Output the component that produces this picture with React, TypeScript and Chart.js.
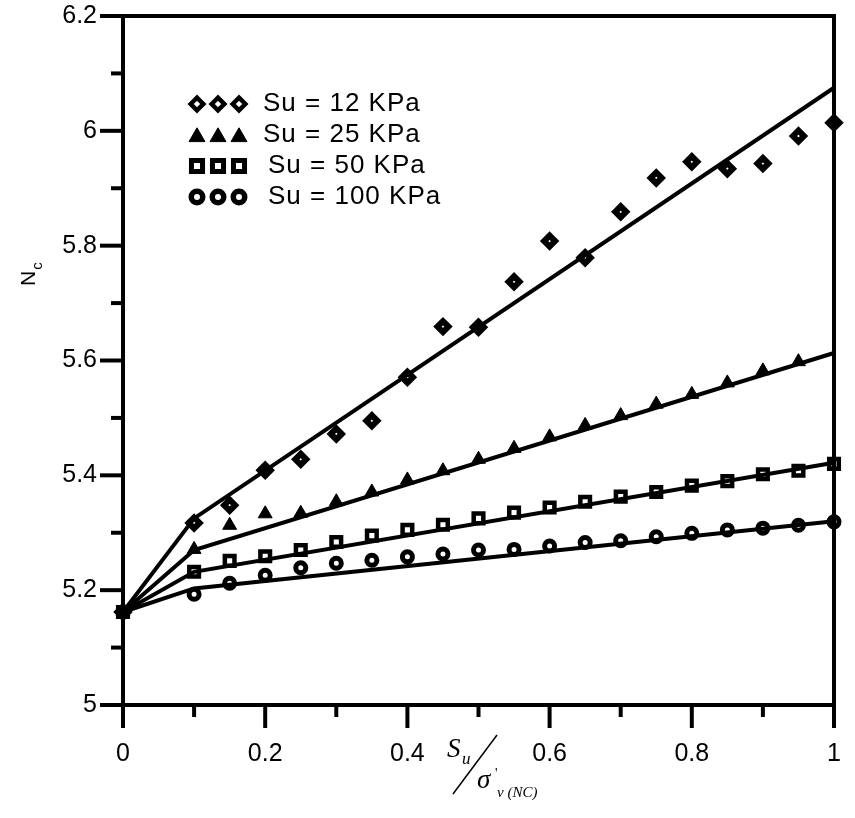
import React, { useEffect, useRef } from 'react';
import { Chart, registerables } from 'chart.js';
import { drawPoint } from 'chart.js/helpers';

Chart.register(...registerables);

// ---- data ----
const xAll = [0, 0.1, 0.15, 0.2, 0.25, 0.3, 0.35, 0.4, 0.45, 0.5, 0.55, 0.6, 0.65, 0.7, 0.75, 0.8, 0.85, 0.9, 0.95, 1.0];
const su12 = [5.162, 5.317, 5.348, 5.409, 5.428, 5.472, 5.495, 5.571, 5.659, 5.658, 5.737, 5.808, 5.779, 5.859, 5.918, 5.946, 5.934, 5.943, 5.991, 6.014];
const su25 = [5.162, 5.271, 5.313, 5.333, 5.334, 5.354, 5.371, 5.392, 5.408, 5.428, 5.447, 5.467, 5.487, 5.504, 5.524, 5.541, 5.561, 5.582, 5.598];
const su50 = [5.162, 5.232, 5.251, 5.259, 5.27, 5.284, 5.295, 5.305, 5.314, 5.325, 5.335, 5.344, 5.354, 5.363, 5.371, 5.382, 5.39, 5.402, 5.408, 5.42];
const su100 = [5.162, 5.193, 5.212, 5.226, 5.239, 5.247, 5.252, 5.258, 5.263, 5.27, 5.271, 5.277, 5.283, 5.286, 5.293, 5.299, 5.305, 5.308, 5.313, 5.319];

const fitX = [0, 0.1, 1];
const fit12 = [5.162, 5.325, 6.075];
const fit25 = [5.162, 5.27, 5.613];
const fit50 = [5.162, 5.232, 5.422];
const fit100 = [5.162, 5.203, 5.32];

const legendLabels = ['Su = 12 KPa', 'Su = 25 KPa', 'Su = 50 KPa', 'Su = 100 KPa'];

const xTickValues = [0, 0.2, 0.4, 0.6, 0.8, 1];
const xTickLabels = ['0', '0.2', '0.4', '0.6', '0.8', '1'];
const xMinorTicks = [0.1, 0.3, 0.5, 0.7, 0.9];
const yTickValues = [5, 5.2, 5.4, 5.6, 5.8, 6, 6.2];
const yTickLabels = ['5', '5.2', '5.4', '5.6', '5.8', '6', '6.2'];
const yMinorTicks = [5.1, 5.3, 5.5, 5.7, 5.9, 6.1];

const SANS = '"Liberation Sans", Arial, sans-serif';
const SERIF = '"Liberation Serif", "Times New Roman", serif';

const markerStyles = [
  { pointStyle: 'rectRot', radius: 5.5, borderWidth: 6, bg: '#fff' },
  { pointStyle: 'triangle', radius: 8, borderWidth: 1, bg: '#000' },
  { pointStyle: 'rect', radius: 6.8, borderWidth: 4.5, bg: '#fff' },
  { pointStyle: 'circle', radius: 5, borderWidth: 5, bg: '#fff' },
];

const pts = (xs: number[], ys: number[]) => ys.map((y, i) => ({ x: xs[i], y }));

const framePlugin = {
  id: 'frameTicks',
  afterDraw(chart: any) {
    const { ctx, chartArea: a, scales } = chart;
    const xs = scales.x;
    const ys = scales.y;
    ctx.save();
    ctx.strokeStyle = '#000';
    ctx.lineWidth = 4;
    ctx.lineJoin = 'miter';
    ctx.strokeRect(a.left, a.top, a.right - a.left, a.bottom - a.top);
    ctx.lineCap = 'butt';
    const tick = (x1: number, y1: number, x2: number, y2: number) => {
      ctx.beginPath();
      ctx.moveTo(x1, y1);
      ctx.lineTo(x2, y2);
      ctx.stroke();
    };
    yTickValues.forEach((v) => {
      const y = ys.getPixelForValue(v);
      tick(a.left, y, a.left - 23, y);
    });
    yMinorTicks.forEach((v) => {
      const y = ys.getPixelForValue(v);
      tick(a.left, y, a.left - 12, y);
    });
    xTickValues.forEach((v) => {
      const x = xs.getPixelForValue(v);
      tick(x, a.bottom, x, a.bottom + 23);
    });
    xMinorTicks.forEach((v) => {
      const x = xs.getPixelForValue(v);
      tick(x, a.bottom, x, a.bottom + 12);
    });

    // legend
    const rowY = [104, 135, 166, 197];
    const markX = [197, 218, 239];
    const legendBorder = [4.5, 1, 5, 5.5];
    legendLabels.forEach((label, i) => {
      const st = markerStyles[i];
      ctx.fillStyle = st.bg;
      ctx.strokeStyle = '#000';
      ctx.lineWidth = legendBorder[i];
      markX.forEach((mx) => {
        drawPoint(ctx, { pointStyle: st.pointStyle, radius: st.radius * 1.15, rotation: 0, borderWidth: legendBorder[i] } as any, mx, rowY[i] + (i === 1 ? 2 : 0));
      });
      ctx.fillStyle = '#000';
      ctx.font = `26px ${SANS}`;
      try { (ctx as any).letterSpacing = '1px'; } catch (e) { /* ignore */ }
      ctx.textAlign = 'left';
      ctx.textBaseline = 'middle';
      ctx.fillText(label, i < 2 ? 263 : 268, rowY[i]);
      try { (ctx as any).letterSpacing = '0px'; } catch (e) { /* ignore */ }
    });

    // y title N_c
    ctx.save();
    ctx.translate(35, 286);
    ctx.rotate(-Math.PI / 2);
    ctx.fillStyle = '#000';
    ctx.textAlign = 'left';
    ctx.textBaseline = 'alphabetic';
    ctx.font = `21px ${SANS}`;
    ctx.fillText('N', 0, 0);
    const nw = ctx.measureText('N').width;
    ctx.font = `15px ${SANS}`;
    ctx.fillText('c', nw + 1, 7);
    ctx.restore();

    // x title S_u / sigma'_v(NC)
    ctx.fillStyle = '#000';
    ctx.textAlign = 'left';
    ctx.textBaseline = 'alphabetic';
    ctx.font = `italic 27px ${SERIF}`;
    ctx.fillText('S', 447, 757);
    ctx.font = `italic 17px ${SERIF}`;
    ctx.fillText('u', 462, 764);
    ctx.lineWidth = 1.5;
    ctx.beginPath();
    ctx.moveTo(497, 735);
    ctx.lineTo(453, 794);
    ctx.stroke();
    ctx.font = `italic 27px ${SERIF}`;
    ctx.fillText('σ', 477, 788);
    ctx.font = `14px ${SERIF}`;
    ctx.fillText("'", 495, 778);
    ctx.font = `italic 15px ${SERIF}`;
    ctx.fillText('v (NC)', 497, 797);
    ctx.restore();
  },
};

export default function App() {
  const ref = useRef<HTMLCanvasElement>(null);
  useEffect(() => {
    if (!ref.current) return;
    const scatterSets = [su12, su25, su50, su100].map((ys, i) => {
      const st = markerStyles[i];
      return {
        type: 'scatter' as const,
        label: legendLabels[i],
        data: pts(xAll, ys),
        showLine: false,
        pointStyle: st.pointStyle,
        pointRadius: st.radius,
        pointBorderWidth: st.borderWidth,
        pointBackgroundColor: st.bg,
        pointBorderColor: '#000',
        clip: false,
      };
    });
    const lineSets = [fit12, fit25, fit50, fit100].map((ys) => ({
      type: 'line' as const,
      label: 'fit',
      data: pts(fitX, ys),
      borderColor: '#000',
      borderWidth: 4,
      pointRadius: 0,
      fill: false,
      tension: 0,
      clip: false,
    }));
    const chart = new Chart(ref.current, {
      type: 'scatter',
      data: { datasets: [...lineSets, ...scatterSets] as any },
      options: {
        responsive: false,
        animation: false,
        events: [],
        layout: { padding: { top: 16, right: 21, left: 0, bottom: 0 } },
        plugins: { legend: { display: false }, tooltip: { enabled: false }, title: { display: false } },
        scales: {
          x: {
            type: 'linear',
            min: 0,
            max: 1,
            grid: { display: false, drawTicks: false },
            border: { display: false },
            afterBuildTicks: (s: any) => { s.ticks = xTickValues.map((v) => ({ value: v })); },
            afterFit: (s: any) => { s.height = 113; s.paddingLeft = 0; s.paddingRight = 0; },
            ticks: {
              color: '#000',
              font: { family: SANS, size: 25 },
              padding: 34,
              maxRotation: 0,
              autoSkip: false,
              callback: (v: any) => { const i = xTickValues.findIndex((t) => Math.abs(t - v) < 1e-6); return i >= 0 ? xTickLabels[i] : ''; },
            },
          },
          y: {
            type: 'linear',
            min: 5,
            max: 6.2,
            grid: { display: false, drawTicks: false },
            border: { display: false },
            afterBuildTicks: (s: any) => { s.ticks = yTickValues.map((v) => ({ value: v })); },
            afterFit: (s: any) => { s.width = 123; s.paddingTop = 0; s.paddingBottom = 0; },
            ticks: {
              color: '#000',
              font: { family: SANS, size: 25 },
              padding: 26,
              autoSkip: false,
              callback: (v: any) => { const i = yTickValues.findIndex((t) => Math.abs(t - v) < 1e-6); return i >= 0 ? yTickLabels[i] : ''; },
            },
          },
        },
      },
      plugins: [framePlugin],
    });
    return () => chart.destroy();
  }, []);
  return (
    <div style={{ position: 'absolute', left: 0, top: 0, width: 855, height: 818, background: '#fff' }}>
      <canvas ref={ref} width={855} height={818} style={{ display: 'block' }} />
    </div>
  );
}
